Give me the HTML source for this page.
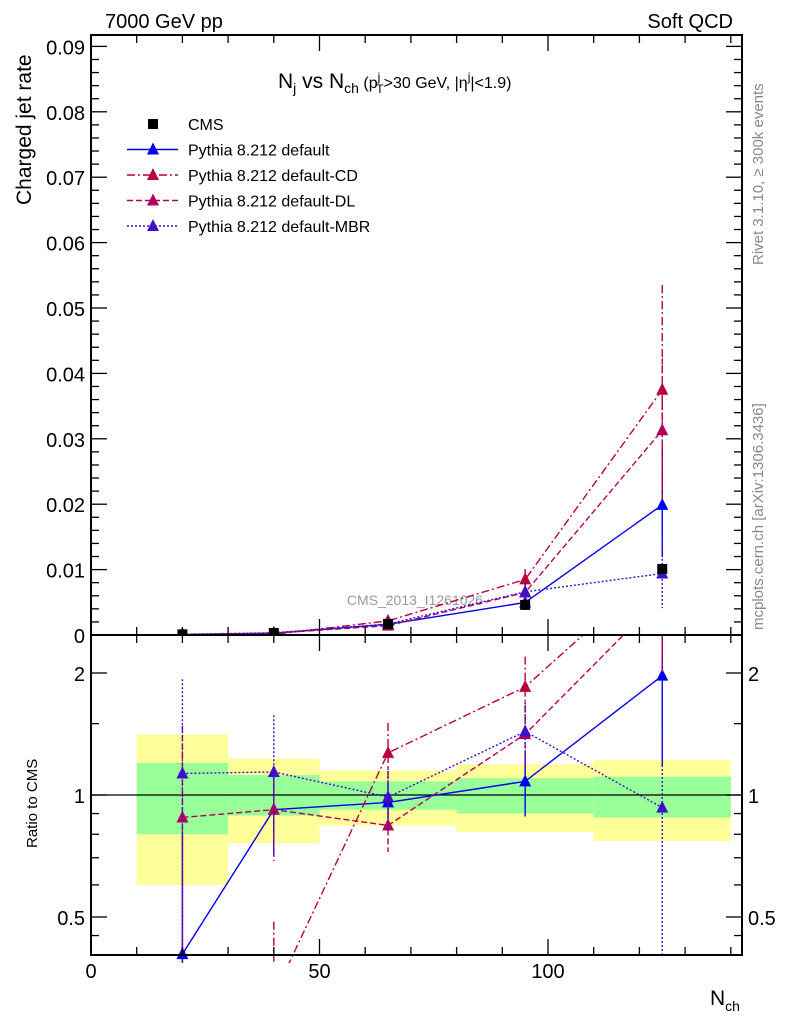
<!DOCTYPE html>
<html><head><meta charset="utf-8"><style>
html,body{margin:0;background:#fff;overflow:hidden;width:786px;height:1024px;}
svg{display:block;}
svg text{font-family:"Liberation Sans",sans-serif;}
</style></head><body>
<svg id="c" width="786" height="1024" viewBox="0 0 786 1024" xmlns="http://www.w3.org/2000/svg">
<text x="105" y="28" font-size="20">7000 GeV pp</text>
<text x="733" y="28" font-size="20" text-anchor="end">Soft QCD</text>
<text x="278" y="88" font-size="21">N<tspan font-size="14" dy="5">j</tspan><tspan dy="-5"> vs N</tspan><tspan font-size="14" dy="5">ch</tspan><tspan dy="-5" font-size="16"> (p</tspan><tspan font-size="12" dy="-7">j</tspan><tspan font-size="12" dy="12" dx="-4">T</tspan><tspan font-size="16" dy="-5">&gt;30 GeV, |η</tspan><tspan font-size="12" dy="-7">j</tspan><tspan font-size="16" dy="7">|&lt;1.9)</tspan></text>
<text transform="translate(31,205) rotate(-90)" font-size="21">Charged jet rate</text>
<text transform="translate(37,848) rotate(-90)" font-size="15">Ratio to CMS</text>
<text x="710" y="1005" font-size="21">N<tspan font-size="14" dy="6">ch</tspan></text>
<text transform="translate(763,265) rotate(-90)" font-size="15" fill="#888">Rivet 3.1.10, ≥ 300k events</text>
<text transform="translate(763,630) rotate(-90)" font-size="15" fill="#888">mcplots.cern.ch [arXiv:1306.3436]</text>
<text x="415" y="605" font-size="14" fill="#999" text-anchor="middle">CMS_2013_I1261026</text>
<g id="bands"></g><g id="series"></g><g id="axes"></g><g id="legend"></g>
</svg>
<script>
const xCenters=[20,40,65,95,125];
const cms=[0.0001,0.0003,0.0017,0.0046,0.0101];
const cmsErr=[0.00002,0.00003,0.0001,0.0003,0.0007];
const pDefault=[0.0000405,0.000276,0.00163,0.00497,0.0199];
const pDefaultErr=[0.00004,0.00006,0.0002,0.0009,0.008];
const pCD=[0.00001,0.000096,0.00216,0.0085,0.0375];
const pCDErr=[0.00002,0.00005,0.0004,0.0016,0.016];
const pDL=[0.000088,0.000276,0.00143,0.0065,0.0313];
const pDLErr=[0.00006,0.00007,0.0002,0.0011,0.011];
const pMBR=[0.000113,0.000342,0.00168,0.0066,0.0094];
const pMBRErr=[0.00008,0.00013,0.0003,0.0012,0.0053];
const binEdges=[10,30,50,80,110,140];
const greenLo=[0.80,0.89,0.92,0.90,0.88];
const greenHi=[1.20,1.12,1.08,1.10,1.11];
const yellowLo=[0.60,0.76,0.84,0.81,0.77];
const yellowHi=[1.41,1.23,1.15,1.19,1.22];
const yTicks=[0,0.01,0.02,0.03,0.04,0.05,0.06,0.07,0.08,0.09];
const yTickLabels=["0","0.01","0.02","0.03","0.04","0.05","0.06","0.07","0.08","0.09"];
const xTicks=[0,50,100];
const rTicks=[0.5,1,2];

const NS="http://www.w3.org/2000/svg";
const L=91,R=742,T=35,M=635,B=955;
const X=v=>L+v*4.57;
const Y=v=>M-v*6540;
const RY=r=>795-Math.log2(r)*122;
function mk(tag,attrs,parent){const e=document.createElementNS(NS,tag);for(const k in attrs)e.setAttribute(k,attrs[k]);parent.appendChild(e);return e;}
const gB=document.getElementById('bands'),gS=document.getElementById('series'),gA=document.getElementById('axes'),gL=document.getElementById('legend');

const defs=mk('defs',{},document.getElementById('c'));
const c1=mk('clipPath',{id:'top'},defs);mk('rect',{x:L,y:T,width:R-L,height:M-T},c1);
const c2=mk('clipPath',{id:'bot'},defs);mk('rect',{x:L,y:M,width:R-L,height:B-M+8},c2);

for(let i=0;i<5;i++){
  const y1=mk('rect',{x:X(binEdges[i]),y:RY(yellowHi[i]),width:X(binEdges[i+1])-X(binEdges[i]),height:RY(yellowLo[i])-RY(yellowHi[i]),fill:'#ffff99'},gB);
  
  
  const g1=mk('rect',{x:X(binEdges[i]),y:RY(greenHi[i]),width:X(binEdges[i+1])-X(binEdges[i]),height:RY(greenLo[i])-RY(greenHi[i]),fill:'#99ff99'},gB);
  
  
}
const one=mk('line',{x1:L,x2:R,y1:RY(1),y2:RY(1),stroke:'#000','stroke-width':1.3},gB);



const series=[
 {name:'default',v:pDefault,e:pDefaultErr,c:'#0000ee',d:''},
 {name:'default-CD',v:pCD,e:pCDErr,c:'#b8003c',d:'8 3 2 3'},
 {name:'default-DL',v:pDL,e:pDLErr,c:'#b0005c',d:'6 3'},
 {name:'default-MBR',v:pMBR,e:pMBRErr,c:'#4010c8',d:'2 2'}
];
function tri(x,y,c,p,nm){const t=mk('polygon',{points:`${x},${y-7} ${x-6},${y+5} ${x+6},${y+5}`,fill:c},p);return t;}
series.forEach(s=>{
  const gt=mk('g',{'clip-path':'url(#top)'},gS);
  
  
  const gr=mk('g',{'clip-path':'url(#bot)'},gS);
  
  
  const pts=s.v.map((v,i)=>X(xCenters[i])+','+Y(v)).join(' ');
  const pl=mk('polyline',{points:pts,fill:'none',stroke:s.c,'stroke-width':1.4,'stroke-dasharray':s.d},gt);
  
  
  const rpts=s.v.map((v,i)=>X(xCenters[i])+','+RY(Math.max(v/cms[i],0.05))).join(' ');
  const rl=mk('polyline',{points:rpts,fill:'none',stroke:s.c,'stroke-width':1.4,'stroke-dasharray':s.d},gr);
  
  
  s.v.forEach((v,i)=>{
    const x=X(xCenters[i]);
    const eb=mk('line',{x1:x,x2:x,y1:Y(v+s.e[i]),y2:Y(Math.max(v-s.e[i],0)),stroke:s.c,'stroke-width':1.4,'stroke-dasharray':s.d},gt);
    
    
    tri(x,Y(v),s.c,gt,'marker');
    const r=v/cms[i],re=s.e[i]/cms[i];
    const er=mk('line',{x1:x,x2:x,y1:RY(r+re),y2:RY(Math.max(r-re,0.01)),stroke:s.c,'stroke-width':1.4,'stroke-dasharray':s.d},gr);
    
    
    tri(x,RY(Math.max(r,0.05)),s.c,gr,'ratio-marker');
  });
});
const gc=mk('g',{'clip-path':'url(#top)'},gS);


cms.forEach((v,i)=>{const x=X(xCenters[i]);
  const r=mk('rect',{x:x-5,y:Y(v)-5,width:10,height:10,fill:'#000'},gc);
  
  
});

const fr1=mk('rect',{x:L,y:T,width:R-L,height:M-T,fill:'none',stroke:'#000','stroke-width':2},gA);


const fr2=mk('rect',{x:L,y:M,width:R-L,height:B-M,fill:'none',stroke:'#000','stroke-width':2},gA);


function ln(x1,y1,x2,y2,nm){const l=mk('line',{x1,y1,x2,y2,stroke:'#000','stroke-width':1.3},gA);}
function tx(x,y,s,sz,anc,nm){const t=mk('text',{x,y,'font-size':sz,'text-anchor':anc},gA);t.textContent=s;}
for(let v=0;v<=0.0915;v+=0.002){const y=Y(v);const maj=Math.abs(v/0.01-Math.round(v/0.01))<0.01;const len=maj?16:8;
  ln(L,y,L+len,y,'y-tick');ln(R,y,R-len,y,'y-tick');}
yTicks.forEach((v,i)=>tx(L-6,Y(v)+8,yTickLabels[i],20,'end','y-tick-label'));
for(let v=0;v<=142;v+=10){const x=X(v);const maj=v%50==0;const len=maj?16:8;
  ln(x,T,x,T+len,'x-tick');ln(x,M,x,M-len,'x-tick');ln(x,M,x,M+len,'x-tick');ln(x,B,x,B-len,'x-tick');}
xTicks.forEach(v=>tx(X(v),978,String(v),20,'middle','x-tick-label'));
[0.45,0.6,0.7,0.8,0.9,1.5,2.5].forEach(r=>{const y=RY(r);if(y>M&&y<B){ln(L,y,L+8,y,'ratio-minor-tick');ln(R,y,R-8,y,'ratio-minor-tick');}});
rTicks.forEach(r=>{const y=RY(r);ln(L,y,L+16,y,'ratio-tick');ln(R,y,R-16,y,'ratio-tick');
  tx(L-6,y+8,String(r),20,'end','ratio-tick-label');tx(R+6,y+8,String(r),20,'start','ratio-tick-label-right');});

const leg=[['CMS','#000','','sq'],['Pythia 8.212 default','#0000ee','',''],['Pythia 8.212 default-CD','#b8003c','8 3 2 3',''],['Pythia 8.212 default-DL','#b0005c','6 3',''],['Pythia 8.212 default-MBR','#4010c8','2 2','']];
leg.forEach((e,i)=>{const y=124+i*25.5;
  const g=mk('g',{},gL);
  if(e[3]=='sq'){mk('rect',{x:148,y:y-5,width:10,height:10,fill:'#000'},g);}
  else{mk('line',{x1:127,x2:178,y1:y,y2:y,stroke:e[1],'stroke-width':1.4,'stroke-dasharray':e[2]},g);tri(153,y,e[1],g,'legend-marker');}
  const t=mk('text',{x:188,y:y+6,'font-size':16},g);t.textContent=e[0];
});
</script>
</body></html>
